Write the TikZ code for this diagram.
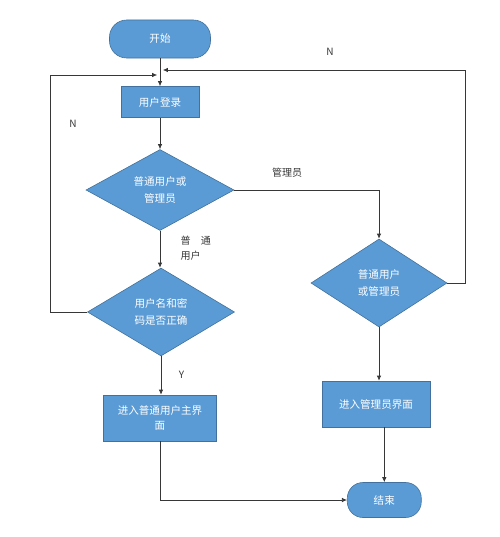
\documentclass[tikz,border=0pt]{standalone}
\usepackage{fontspec}
\newfontfamily\cjk{Noto Sans CJK SC}
\usepackage{tikz}
\usetikzlibrary{shapes.geometric, positioning, arrows.meta}
\definecolor{officeblue}{RGB}{91,155,213}
\definecolor{officeborder}{RGB}{65,113,156}
\definecolor{lineGray}{RGB}{55,55,55}

\begin{document}
\begin{tikzpicture}[
    block/.style={rectangle, draw=officeborder, fill=officeblue, line width=0.6pt, text=white, font=\cjk\fontsize{10.5}{15}\selectfont, align=center, inner sep=2pt},
    terminal/.style={block, rounded corners=0.6cm},
    decision/.style={diamond, draw=officeborder, fill=officeblue, line width=0.6pt, text=white, font=\cjk\fontsize{10.5}{17}\selectfont, align=center, inner sep=0pt},
    connection/.style={-{Latex[length=5pt,width=4.5pt]}, line width=0.7pt, lineGray},
    flow label/.style={font=\cjk\fontsize{10}{15}\selectfont, text=lineGray, align=left}
]
    \useasboundingbox (0,0) rectangle (17.5,-18.795);

    % Terminals
    \node[terminal, minimum width=3.535cm, minimum height=1.33cm] (start) at (5.6,-1.365) {开始};
    \node[terminal, minimum width=2.59cm, minimum height=1.225cm, rounded corners=0.55cm] (end) at (13.45,-17.5) {结束};

    % Left column
    \node[block, minimum width=2.73cm, minimum height=1.085cm] (login) at (5.6,-3.57) {用户登录};
    \node[decision, minimum width=5.18cm, minimum height=2.835cm, aspect=1.83] (role) at (5.6,-6.65) {普通用户或\\管理员};
    \node[decision, minimum width=5.145cm, minimum height=3.08cm, aspect=1.67] (check) at (5.635,-10.92) {用户名和密\\码是否正确};
    \node[block, minimum width=3.955cm, minimum height=1.61cm] (userhome) at (5.6,-14.63) {进入普通用户主界\\面};

    % Right column
    \node[decision, minimum width=4.76cm, minimum height=3.08cm, aspect=1.55] (admincheck) at (13.265,-9.905) {普通用户\\或管理员};
    \node[block, minimum width=3.78cm, minimum height=1.61cm] (adminhome) at (13.16,-14.14) {进入管理员界面};

    % Loop ends at the login entry
    \coordinate (joinL) at (5.5,-2.625);
    \coordinate (joinR) at (5.7,-2.45);

    % Connections
    \draw[connection] (start) -- (login);
    \draw[connection] (login) -- (role);
    \draw[connection] (role.south) -- (check.north -| role.south);
    \draw[connection] (check.south) -- (userhome.north -| check.south);
    \draw[connection] (role.east) -| (admincheck.north);
    \draw[connection] (admincheck.south) -- (admincheck.south |- adminhome.north);
    \draw[connection] (adminhome.south -| end.north) -- (end.north);
    \draw[connection] (userhome.south) |- (end.west);
    \draw[connection] (check.west) -- ++(-1.3,0) |- (joinL);
    \draw[connection] (admincheck.east) -- ++(0.63,0) |- (joinR);

    % Labels
    \node[flow label] (nright) at (11.55,-1.82) {N};
    \node[flow label] (nleft) at (2.555,-4.34) {N};
    \node[flow label] (adminlabel) at (10.05,-6.06) {管理员};
    \node[flow label, anchor=west] (userlabel) at (6.2,-8.68) {普\hspace{1em}通\\用户};
    \node[flow label] (ylabel) at (6.35,-13.13) {Y};
\end{tikzpicture}
\end{document}
